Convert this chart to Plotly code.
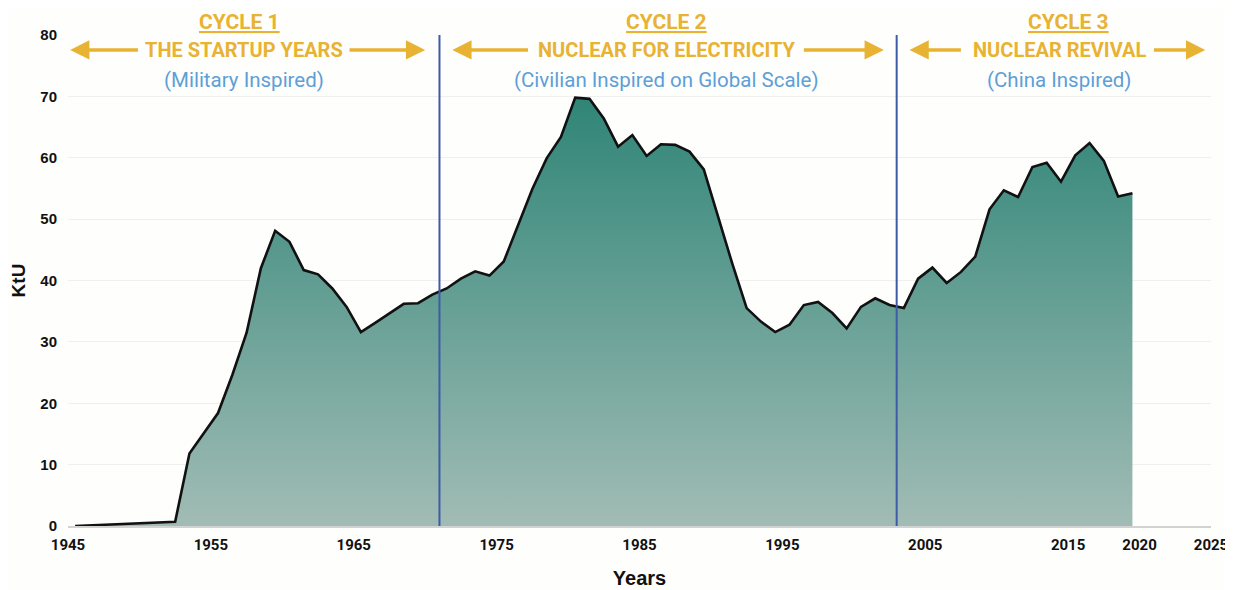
import plotly.graph_objects as go

years = list(range(1945, 2020))
production_ktu = [
    0.0, 0.1, 0.2, 0.3, 0.4, 0.5, 0.6, 0.7,
    11.8, 15.0, 18.4, 24.6, 31.5, 42.0, 48.1, 46.3, 41.7, 41.0, 38.7, 35.7,
    31.6, 33.1, 34.7, 36.2, 36.3, 37.7, 38.7, 40.3, 41.5, 40.8,
    43.1, 49.0, 54.9, 59.9, 63.4, 69.8, 69.6, 66.4, 61.8, 63.7,
    60.3, 62.2, 62.1, 61.0, 58.1, 50.4, 42.7, 35.5, 33.3, 31.6,
    32.8, 36.0, 36.5, 34.7, 32.2, 35.7, 37.1, 36.0, 35.5, 40.3,
    42.1, 39.6, 41.4, 43.9, 51.6, 54.7, 53.6, 58.5, 59.2, 56.1,
    60.4, 62.4, 59.5, 53.7, 54.2,
]
tick_years = [1945, 1955, 1965, 1975, 1985, 1995, 2005, 2015, 2020, 2025]
cycle_bounds = [1971, 2003]
cycle_titles = ["CYCLE 1", "CYCLE 2", "CYCLE 3"]
cycle_names = ["THE STARTUP YEARS", "NUCLEAR FOR ELECTRICITY", "NUCLEAR REVIVAL"]
cycle_notes = ["(Military Inspired)", "(Civilian Inspired on Global Scale)", "(China Inspired)"]

GOLD = "#e8b232"
SKY = "#5d9fd6"
NAVY = "#3e5ba8"
COND = "Roboto, sans-serif"

# mid-year placement of annual values
x_mid = [y + 0.5 for y in years]

fig = go.Figure()
fig.add_trace(go.Scatter(
    x=x_mid, y=production_ktu, mode="lines",
    line=dict(color="#111111", width=2.6),
    fill="tozeroy",
    fillgradient=dict(type="vertical", start=0, stop=70,
                      colorscale=[[0, "#a1bcb5"], [1, "#2f8577"]]),
    hoverinfo="x+y", showlegend=False,
))

for xb in cycle_bounds:
    fig.add_shape(type="line", xref="x", yref="y", x0=xb, x1=xb, y0=0, y1=80,
                  line=dict(color=NAVY, width=2), layer="above")

centers = [1957.3, 1986.9, 2014.4]
title_centers = [1957.0, 1986.9, 2015.0]
for c, tc, t, n, note in zip(centers, title_centers, cycle_titles, cycle_names, cycle_notes):
    fig.add_annotation(x=tc, y=1.027, xref="x", yref="paper", text="<b>%s</b>" % t,
                       showarrow=False, yanchor="middle",
                       font=dict(family=COND, size=21, color=GOLD, lineposition="under"))
    fig.add_annotation(x=c, y=0.9695, xref="x", yref="paper", text="<b>%s</b>" % n,
                       showarrow=False, yanchor="middle",
                       font=dict(family=COND, size=20, color=GOLD))
    fig.add_annotation(x=c, y=0.908, xref="x", yref="paper", text=note,
                       showarrow=False, yanchor="middle",
                       font=dict(family=COND, size=20.5, color=SKY))

arrows = [(1945.15, 1950.0), (1970.0, 1964.6),
          (1971.9, 1977.3), (2002.1, 1996.4),
          (2003.9, 2007.6), (2024.6, 2020.9)]
for tip, tail in arrows:
    fig.add_annotation(x=tip, y=0.9695, ax=tail, ay=0, xref="x", yref="paper",
                       axref="x", ayref="pixel", text="", showarrow=True,
                       arrowhead=2, arrowsize=1.1, arrowwidth=3.5, arrowcolor=GOLD)

# page body has an 8px margin, so the figure is sized to fill the remaining window
fig.update_layout(
    width=1225, height=582,
    margin=dict(l=60, r=22, t=27, b=64),
    paper_bgcolor="#fefefd", plot_bgcolor="#fefefd",
    font=dict(family="Liberation Sans, Arial, sans-serif", color="#111111"),
)
fig.update_xaxes(
    automargin=False,
    range=[1945, 2025], tickmode="array", tickvals=tick_years,
    ticktext=["<b>%d</b>" % t for t in tick_years],
    tickfont=dict(family=COND, size=15, color="#111111"),
    showgrid=False, zeroline=False, showline=True, linecolor="#d2d2d2", linewidth=2,
    ticks="", ticklabelstandoff=4,
    title=dict(text="<b>Years</b>", font=dict(family="Liberation Sans, Arial", size=20), standoff=18),
)
fig.update_yaxes(
    automargin=False,
    range=[0, 80], tickmode="array", tickvals=list(range(0, 81, 10)),
    ticktext=["<b>%d</b>" % v for v in range(0, 81, 10)],
    tickfont=dict(family="Liberation Sans, Arial", size=15, color="#111111"),
    showgrid=True, gridcolor="#efefef", gridwidth=1, zeroline=False,
    ticks="", ticklabelstandoff=10,
    title=dict(text="<b>KtU</b>", font=dict(family="Liberation Sans, Arial", size=19), standoff=12),
)

fig.write_html("out.html")
